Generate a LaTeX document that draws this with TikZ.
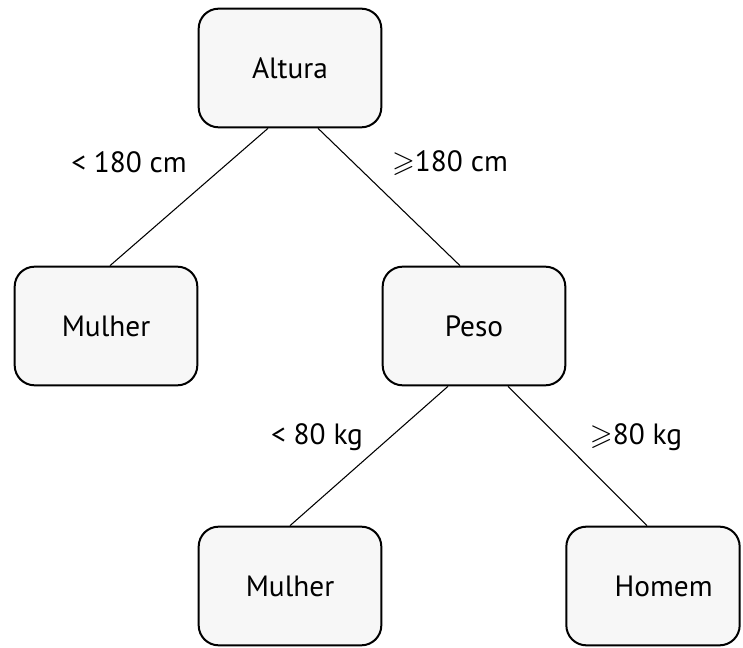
\documentclass[tikz,border=0pt]{standalone}
\usepackage{amssymb}
\usepackage{fontspec}
\setmainfont{PT Sans}
\usetikzlibrary{positioning}

\begin{document}
\begin{tikzpicture}[x=0.75pt,y=-0.75pt,
    decisao/.style={draw=black,line width=1.5pt,fill=gray!6,rounded corners=15pt,
      minimum width=137pt,minimum height=89pt,inner sep=0pt,font=\fontsize{22}{26}\selectfont},
    ramo/.style={black,line width=0.8pt},
    rotulo/.style={font=\fontsize{22}{26}\selectfont}]
    \useasboundingbox (0,0) rectangle (743,648);

    \node[decisao] (altura) at (290,68) {Altura};
    \node[decisao] (mulherA) at (106,326) {Mulher};
    \node[decisao] (peso) at (474,326) {Peso};
    \node[decisao] (mulherB) at (290,586) {Mulher};
    \node[decisao,minimum width=130pt] (homem) at (653,586) {\hspace{16pt}Homem};

    \draw[ramo] ([xshift=-16.5pt]altura.south) -- ([xshift=3pt]mulherA.north);
    \draw[ramo] ([xshift=21pt]altura.south) -- ([xshift=-10.5pt]peso.north);
    \draw[ramo] ([xshift=-19.5pt]peso.south) -- (mulherB.north);
    \draw[ramo] ([xshift=25.5pt]peso.south) -- ([xshift=-4.5pt]homem.north);

    \node[rotulo] (lblA) at (129,162) {< 180 cm};
    \node[rotulo] (lblB) at (450,163) {$\geqslant$180 cm};
    \node[rotulo] (lblC) at (317,437) {< 80 kg};
    \node[rotulo] (lblD) at (636,437) {$\geqslant$80 kg};
\end{tikzpicture}
\end{document}
